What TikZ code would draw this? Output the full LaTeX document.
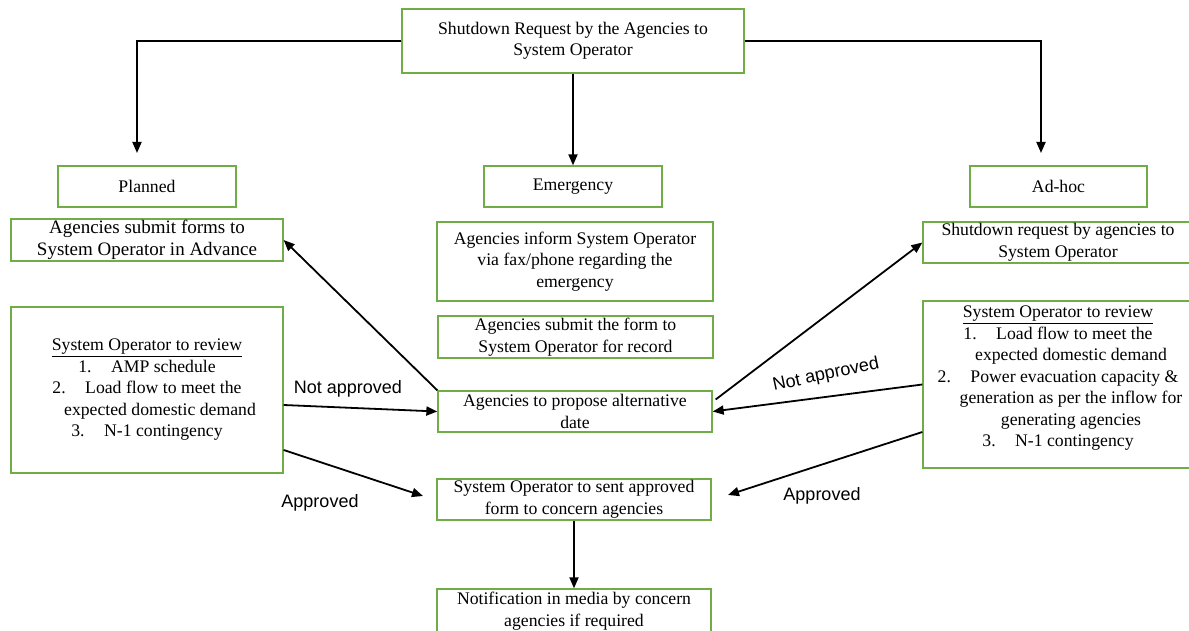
\documentclass[tikz,border=0pt]{standalone}
\usepackage{fontspec}
\setmainfont{Liberation Serif}
\newfontfamily\lblfont{Liberation Sans}
\usetikzlibrary{arrows.meta}
\definecolor{boxgreen}{RGB}{112,173,71}
\begin{document}
\begin{tikzpicture}[x=1pt,y=-1pt,
  box/.style={draw=boxgreen, line width=1.3pt, rectangle, align=center, inner sep=0pt, font=\fontsize{17.7}{21.5}\selectfont},
  txt/.style={align=center, inner sep=0pt, font=\fontsize{17.7}{21.5}\selectfont},
  conn/.style={draw=black, line width=1.8pt, -{Triangle[length=11pt,width=9pt]}},
  lbl/.style={font=\lblfont\fontsize{18}{21}\selectfont, inner sep=0pt}]
\useasboundingbox (0,0) rectangle (1189,631);
\fill[white] (0,0) rectangle (1189,631);
% boxes
\node[box, minimum width=342pt, minimum height=64pt] (top) at (573,41) {Shutdown Request by the Agencies to\\System Operator};
\node[box, minimum width=178pt, minimum height=41pt] (planned) at (147,186.5) {Planned};
\node[box, minimum width=178pt, minimum height=41pt] (emerg) at (573,186.5) {\strut Emergency};
\node[box, minimum width=177pt, minimum height=41pt] (adhoc) at (1058.5,186.5) {Ad-hoc};
\node[box, minimum width=272pt, minimum height=42pt, font=\fontsize{19}{22}\selectfont] (submit) at (147,240) {Agencies submit forms to\\System Operator in Advance};
\node[box, minimum width=272pt, minimum height=166pt] (lreview) at (147,390) {\underline{System Operator to review}\\1.\hspace{1.1em}AMP schedule\\2.\hspace{1.1em}Load flow to meet the\\\hspace*{26pt}expected domestic demand\\3.\hspace{1.1em}N-1 contingency};
\node[box, minimum width=276pt, minimum height=79pt] (inform) at (575,261.5) {Agencies inform System Operator\\via fax/phone regarding the\\emergency};
\node[box, minimum width=275pt, minimum height=42pt] (record) at (575.5,337) {Agencies submit the form to\\System Operator for record};
\node[box, minimum width=274pt, minimum height=41pt] (alt) at (575,411.5) {Agencies to propose alternative\\date};
\node[box, minimum width=274pt, minimum height=41pt] (sent) at (574,499.5) {System Operator to sent approved\\form to concern agencies};
\node[box, minimum width=274pt, minimum height=44pt] (notif) at (574,611) {Notification in media by concern\\agencies if required};
\node[box, minimum width=270pt, minimum height=41pt] (rshut) at (1058,242.5) {Shutdown request by agencies to\\System Operator};
\node[box, minimum width=270pt, minimum height=167pt] (rreview) at (1058,384.5) {};
\node[txt] (rreviewtxt) at (1058,378.5) {\underline{System Operator to review}\\1.\hspace{1.1em}Load flow to meet the\\\hspace*{26pt}expected domestic demand\\2.\hspace{1.1em}Power evacuation capacity \&\\\hspace*{26pt}generation as per the inflow for\\\hspace*{26pt}generating agencies\\3.\hspace{1.1em}N-1 contingency};
% free ends
\coordinate (pl) at (137,153);
\coordinate (ah) at (1041,153);
\coordinate (sentL) at (423,496);
\coordinate (sentR) at (728,495);
% connectors
\draw[conn] (top.west) -| (pl);
\draw[conn] (top.east) -| (ah);
\draw[conn] (top.south) -- (emerg.north);
\draw[conn] (alt.north west) -- (submit.east);
\draw[conn] ([yshift=-15pt]lreview.east) -- (alt.west);
\draw[conn] ([yshift=-60pt]lreview.east) -- (sentL);
\draw[conn] ([xshift=3pt,yshift=12pt]alt.east) -- (rshut.west);
\draw[conn] (rreview.west) -- (alt.east);
\draw[conn] ([yshift=-47.5pt]rreview.west) -- (sentR);
\draw[conn] (sent.south) -- (notif.north);
% labels
\node[lbl] (na1) at (348,389) {Not approved};
\node[lbl] (ap1) at (320,503) {Approved};
\node[lbl, rotate=12] (na2) at (826,375) {Not approved};
\node[lbl] (ap2) at (822,496) {Approved};
\end{tikzpicture}
\end{document}
